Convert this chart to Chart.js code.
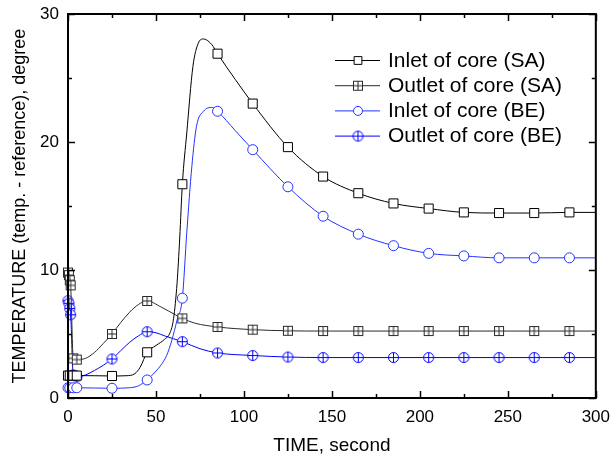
<!DOCTYPE html>
<html>
<head>
<meta charset="utf-8">
<script src="https://cdn.jsdelivr.net/npm/chart.js@4.4.0/dist/chart.umd.min.js"></script>
<style>
html, body { margin: 0; padding: 0; background: #fff; }
</style>
</head>
<body>
<canvas id="c" width="610" height="458"></canvas>
<script>
const canvas = document.getElementById("c")

// series names, same order as the legend
const series_names = ["Inlet of core (SA)", "Outlet of core (SA)", "Inlet of core (BE)", "Outlet of core (BE)"]

// times (s) where the plotted symbols sit
const late_marks = [25, 45, 65, 85, 105, 125, 145, 165, 185, 205, 225, 245, 265, 285]
const inlet_early_marks = [0, 1, 3, 5]
const outlet_early_marks = [0, 0.5, 1, 1.5, 3, 5]

// Inlet of core (SA)
const inlet_sa_t = [0, 1, 3, 5, 15, 25, 33, 38, 41, 45, 50, 55, 58, 60, 62, 63.5, 65, 67.5, 71, 74, 77, 81.8, 85, 95, 105, 125, 145, 165, 185, 205, 225, 245, 265, 285, 300]
const inlet_sa_v = [1.75, 1.75, 1.75, 1.75, 1.74, 1.72, 1.74, 1.9, 2.4, 3.57, 4.1, 4.6, 5.1, 6.2, 9.0, 12.5, 16.7, 20.7, 25.9, 27.7, 28.05, 27.6, 26.9, 24.9, 23.0, 19.6, 17.3, 16.0, 15.2, 14.8, 14.5, 14.45, 14.45, 14.5, 14.5]

// Outlet of core (SA)
const outlet_sa_t = [0, 0.5, 1, 1.5, 3, 5, 10, 15, 20, 25, 30, 35, 40, 45, 53, 61, 65, 72, 85, 105, 125, 145, 165, 185, 205, 225, 245, 265, 285, 300]
const outlet_sa_v = [9.8, 9.6, 9.2, 8.8, 3.1, 3.0, 3.1, 3.55, 4.25, 5.0, 5.9, 6.7, 7.3, 7.58, 7.1, 6.5, 6.22, 5.85, 5.55, 5.34, 5.25, 5.23, 5.23, 5.23, 5.23, 5.23, 5.23, 5.23, 5.23, 5.23]

// Inlet of core (BE)
const inlet_be_t = [0, 1, 3, 5, 15, 25, 35, 40, 45, 50, 53, 56, 59, 62, 65, 67.5, 70.4, 73, 77, 82, 85, 95, 105, 125, 145, 165, 185, 205, 225, 245, 265, 285, 300]
const inlet_be_v = [0.8, 0.8, 0.8, 0.8, 0.78, 0.76, 0.8, 0.95, 1.41, 2.1, 2.6, 3.3, 4.5, 6.1, 7.8, 12.9, 18.1, 21.2, 22.4, 22.7, 22.4, 20.9, 19.4, 16.5, 14.2, 12.8, 11.9, 11.3, 11.1, 10.95, 10.95, 10.95, 10.95]

// Outlet of core (BE)
const outlet_be_t = [0, 0.5, 1, 1.5, 3, 5, 10, 15, 20, 25, 30, 35, 40, 45, 50, 55, 65, 75, 85, 105, 125, 145, 165, 185, 205, 225, 245, 265, 285, 300]
const outlet_be_v = [7.6, 7.4, 7.0, 6.5, 1.8, 1.66, 1.8, 2.15, 2.55, 3.05, 3.7, 4.35, 4.85, 5.18, 5.1, 4.85, 4.4, 3.85, 3.52, 3.32, 3.2, 3.16, 3.16, 3.16, 3.16, 3.16, 3.16, 3.16, 3.16, 3.16]

// axis ticks
const x_ticks = [0, 50, 100, 150, 200, 250, 300]
const y_ticks = [0, 10, 20, 30]

const black = "#000000"
const dark = "#2a2a2a"
const blue_in = "#2233ff"
const blue_out = "#0000ff"

Chart.defaults.font.family = "'Liberation Sans', Arial, sans-serif"
Chart.defaults.color = "#000"

// square with a cross, and circle with a cross
function box_cross(color){
    const c = document.createElement("canvas")
    c.width = 12; c.height = 12
    const g = c.getContext("2d")
    g.fillStyle = "#fff"
    g.fillRect(1.5, 1.5, 9, 9)
    g.strokeStyle = color
    g.lineWidth = 1
    g.strokeRect(1.5, 1.5, 9, 9)
    g.beginPath()
    g.moveTo(6, 1.5); g.lineTo(6, 10.5)
    g.moveTo(1.5, 6); g.lineTo(10.5, 6)
    g.stroke()
    return c
}

function circle_cross(color){
    const c = document.createElement("canvas")
    c.width = 13; c.height = 13
    const g = c.getContext("2d")
    g.fillStyle = "#fff"
    g.strokeStyle = color
    g.lineWidth = 1
    g.beginPath()
    g.arc(6.5, 6.5, 5, 0, Math.PI * 2)
    g.fill()
    g.stroke()
    g.beginPath()
    g.moveTo(6.5, 1.5); g.lineTo(6.5, 11.5)
    g.moveTo(1.5, 6.5); g.lineTo(11.5, 6.5)
    g.stroke()
    return c
}

function make_set(label, t, v, marks, color, style, radius){
    return {
        label: label,
        data: t.map((x, i) => ({x: x, y: v[i]})),
        borderColor: color,
        borderWidth: 1,
        pointStyle: style,
        pointRadius: t.map(x => marks.includes(x) ? radius : 0),
        pointBackgroundColor: "#fff",
        pointBorderColor: color,
        pointBorderWidth: 1,
        cubicInterpolationMode: "monotone",
        fill: false,
        clip: false
    }
}

const sets = [
    make_set(series_names[0], inlet_sa_t, inlet_sa_v, inlet_early_marks.concat(late_marks), black, "rect", 6.4),
    make_set(series_names[1], outlet_sa_t, outlet_sa_v, outlet_early_marks.concat(late_marks), dark, box_cross(dark), 6),
    make_set(series_names[2], inlet_be_t, inlet_be_v, inlet_early_marks.concat(late_marks), blue_in, "circle", 5),
    make_set(series_names[3], outlet_be_t, outlet_be_v, outlet_early_marks.concat(late_marks), blue_out, circle_cross(blue_out), 6)
]

function line(ctx, x1, y1, x2, y2){
    ctx.beginPath()
    ctx.moveTo(x1, y1)
    ctx.lineTo(x2, y2)
    ctx.stroke()
}

// box round the plot with inward ticks on all four sides
const frame_plugin = {
    id: "frame",
    afterDatasetsDraw(chart){
        const ctx = chart.ctx
        const a = chart.chartArea
        const xs = chart.scales.x
        const ys = chart.scales.y
        ctx.save()
        ctx.strokeStyle = "#000"
        ctx.lineWidth = 1.5
        for (let v = 0; v <= 300; v += 25){
            const px = Math.round(xs.getPixelForValue(v)) + 0.5
            const len = v % 50 === 0 ? 7 : 4
            line(ctx, px, a.bottom, px, a.bottom - len)
            line(ctx, px, a.top, px, a.top + len)
        }
        for (let v = 0; v <= 30; v += 5){
            const py = Math.round(ys.getPixelForValue(v)) + 0.5
            const len = v % 10 === 0 ? 7 : 4
            line(ctx, a.left, py, a.left + len, py)
            line(ctx, a.right, py, a.right - len, py)
        }
        ctx.lineWidth = 2
        ctx.strokeRect(a.left, a.top, a.right - a.left, a.bottom - a.top)
        ctx.restore()
    }
}

// legend: short line with the symbol in its middle, then the name
const legend_plugin = {
    id: "legend_box",
    afterDraw(chart){
        const ctx = chart.ctx
        ctx.save()
        ctx.font = "21px 'Liberation Sans', Arial, sans-serif"
        ctx.textBaseline = "middle"
        sets.forEach((s, i) => {
            const y = 60 + i * 25.2
            ctx.strokeStyle = s.borderColor
            ctx.lineWidth = 1
            line(ctx, 335, y + 0.5, 380, y + 0.5)
            const img = typeof s.pointStyle === "object"
            ctx.fillStyle = "#fff"
            ctx.strokeStyle = s.borderColor
            Chart.helpers.drawPoint(ctx, {
                pointStyle: s.pointStyle,
                radius: img ? 5 : (s.pointStyle === "rect" ? 5.5 : 4.5),
                borderWidth: 1,
                rotation: 0
            }, 358, y + 0.5)
            ctx.fillStyle = "#000"
            ctx.fillText(s.label, 388, y + 1)
        })
        ctx.restore()
    }
}

chart = new Chart(canvas.getContext("2d"), {
    type: "line",
    data: {datasets: sets},
    options: {
        responsive: false,
        animation: false,
        events: [],
        layout: {padding: {top: 14, right: 14, left: 0, bottom: 0}},
        plugins: {legend: {display: false}, tooltip: {enabled: false}},
        scales: {
            x: {
                type: "linear",
                min: 0,
                max: 300,
                afterBuildTicks: s => { s.ticks = x_ticks.map(v => ({value: v})) },
                ticks: {padding: 0, maxRotation: 0, font: {size: 17, lineHeight: 2.29}, color: "#000"},
                grid: {display: false, drawTicks: false},
                border: {display: false},
                title: {display: true, text: "TIME, second", font: {size: 19}, color: "#000", padding: {top: 0, bottom: 1}},
                afterFit: s => { s.height = 60 }
            },
            y: {
                type: "linear",
                min: 0,
                max: 30,
                afterBuildTicks: s => { s.ticks = y_ticks.map(v => ({value: v})) },
                ticks: {padding: 9, font: {size: 17, lineHeight: 0.5}, color: "#000"},
                grid: {display: false, drawTicks: false},
                border: {display: false},
                title: {display: true, text: "TEMPERATURE (temp. - reference), degree", font: {size: 18}, color: "#000", padding: {top: 9, bottom: 0}},
                afterFit: s => { s.width = 68 }
            }
        }
    },
    plugins: [frame_plugin, legend_plugin]
})
</script>
</body>
</html>
